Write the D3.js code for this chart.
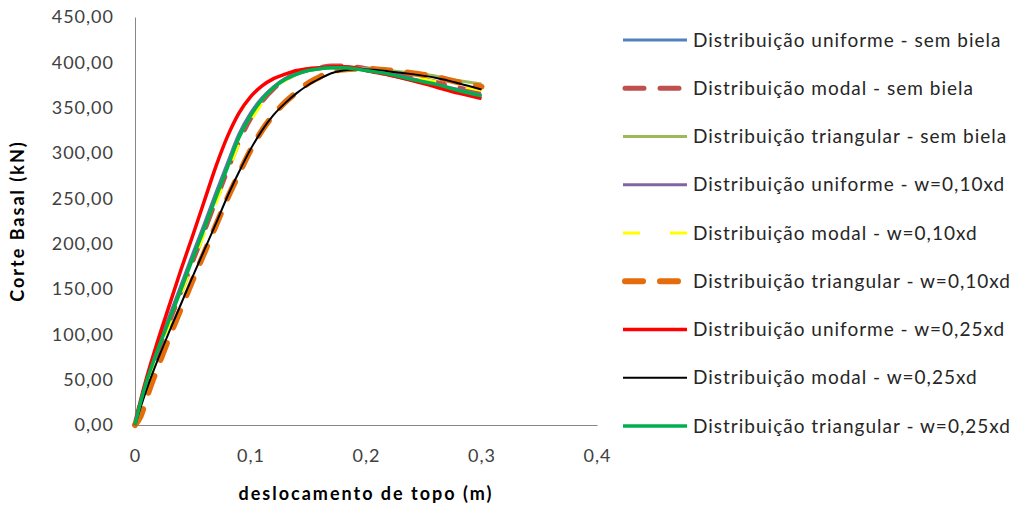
<!DOCTYPE html>
<html>
<head>
<meta charset="utf-8">
<script src="https://cdn.jsdelivr.net/npm/d3@7"></script>
<style>
  body { margin: 0; background: #fff; }
  svg { display: block; }
  .tick text { font-family: Lato, "Open Sans", sans-serif; font-size: 18px; letter-spacing: 1px; fill: #404040; }
  .legend text { font-family: Lato, "Open Sans", sans-serif; font-size: 19px; letter-spacing: 1px; fill: #262626; }
  .title { font-family: Lato, "Open Sans", sans-serif; font-size: 18px; font-weight: bold; letter-spacing: 2px; fill: #000; }
</style>
</head>
<body>
<div id="chart"></div>
<script>
// top displacement (m), shared by all series
var deslocamento = [0, 0.005, 0.01, 0.02, 0.03, 0.04, 0.05, 0.06, 0.07, 0.08, 0.09, 0.10, 0.11, 0.12, 0.13, 0.14, 0.15, 0.16, 0.17, 0.18, 0.19, 0.20, 0.22, 0.24, 0.26, 0.28, 0.30];

// base shear (kN) per series
var uniformeSemBiela   = [0, 27, 50, 87, 121, 155, 189, 222, 256, 289, 321, 344, 361, 373, 382, 388, 391, 393, 394, 394, 393, 391, 386, 380, 374, 368, 362];
var modalSemBiela      = [0, 25, 46, 82, 115, 148, 181, 214, 248, 281, 313, 338, 357, 371, 381, 388, 392, 394, 396, 396, 395, 393, 389, 384, 378, 372, 366];
var triangularSemBiela = [0, 26, 48, 85, 118, 151, 185, 218, 252, 285, 317, 341, 359, 372, 381, 387, 391, 393, 394, 395, 394, 393, 391, 388, 385, 380, 376];
var uniforme010        = [0, 26, 49, 86, 120, 153, 187, 220, 254, 287, 319, 343, 360, 373, 382, 388, 392, 394, 395, 395, 394, 392, 388, 382, 376, 370, 364];
var modal010           = [0, 24, 45, 80, 112, 145, 178, 211, 244, 277, 310, 335, 355, 370, 380, 387, 391, 393, 394, 394, 394, 392, 389, 384, 379, 374, 369];
var triangular010      = [0, 10, 30, 65, 98, 129, 160, 190, 220, 250, 277, 303, 325, 342, 356, 367, 377, 384, 390, 392, 393, 393, 391, 388, 384, 378, 373];
var uniforme025        = [0, 28, 52, 94, 133, 172, 209, 247, 285, 318, 344, 362, 374, 382, 387, 391, 393, 394, 395, 395, 394, 391, 386, 380, 373, 366, 360];
var modal025           = [0, 20, 39, 73, 104, 134, 164, 193, 222, 252, 279, 304, 325, 342, 355, 366, 375, 382, 388, 391, 392, 392, 390, 387, 383, 377, 370];
var triangular025      = [0, 26, 48, 84, 117, 150, 184, 217, 251, 284, 317, 341, 359, 372, 381, 387, 391, 393, 394, 394, 393, 391, 387, 381, 376, 369, 363];

var nomes = ["Distribuição uniforme - sem biela", "Distribuição modal - sem biela", "Distribuição triangular - sem biela",
  "Distribuição uniforme - w=0,10xd", "Distribuição modal - w=0,10xd", "Distribuição triangular - w=0,10xd",
  "Distribuição uniforme - w=0,25xd", "Distribuição modal - w=0,25xd", "Distribuição triangular - w=0,25xd"];
var valores = [uniformeSemBiela, modalSemBiela, triangularSemBiela, uniforme010, modal010, triangular010, uniforme025, modal025, triangular025];

var xTicks = [0, 0.1, 0.2, 0.3, 0.4];
var yTicks = [0, 50, 100, 150, 200, 250, 300, 350, 400, 450];

// line styles (colour, width, dash)
var estilos = [
  { cor: "#4F81BD", largura: 3, dash: null, cap: "butt" },
  { cor: "#C0504D", largura: 5, dash: "19,16", cap: "round" },
  { cor: "#9BBB59", largura: 3, dash: null, cap: "butt" },
  { cor: "#8064A2", largura: 3, dash: null, cap: "butt" },
  { cor: "#FFFF00", largura: 3, dash: "17,30", cap: "butt" },
  { cor: "#E46C0A", largura: 6, dash: "18,17", cap: "round" },
  { cor: "#FF0000", largura: 3.5, dash: null, cap: "butt" },
  { cor: "#000000", largura: 2, dash: null, cap: "butt" },
  { cor: "#00B050", largura: 3.5, dash: null, cap: "butt" }
];

var w = 1017;
var h = 506;

var svg = d3.select("#chart")
  .append("svg")
  .attr("width", w)
  .attr("height", h);

var pt = d3.formatLocale({ decimal: ",", thousands: ".", grouping: [3], currency: ["", ""] });

var x = d3.scaleLinear().domain([0, 0.4]).range([135, 597]);
var y = d3.scaleLinear().domain([0, 450]).range([425, 17]);

// axes
var eixoY = svg.append("g")
  .attr("transform", "translate(" + x(0) + ",0)")
  .call(d3.axisLeft(y).tickValues(yTicks).tickSize(0).tickPadding(21).tickFormat(pt.format(".2f")));
eixoY.select(".domain").attr("stroke", "#868686");

var eixoX = svg.append("g")
  .attr("transform", "translate(0," + y(0) + ")")
  .call(d3.axisBottom(x).tickValues(xTicks).tickSize(0).tickPadding(24)
    .tickFormat(function(d) { return d === 0 ? "0" : pt.format(".1f")(d); }));
eixoX.select(".domain").attr("stroke", "#868686");

// axis titles
svg.append("text")
  .attr("class", "title")
  .attr("text-anchor", "middle")
  .attr("transform", "translate(24," + ((y(0) + y(450)) / 2) + ") rotate(-90)")
  .text("Corte Basal (kN)");

svg.append("text")
  .attr("class", "title")
  .attr("text-anchor", "middle")
  .attr("x", (x(0) + x(0.4)) / 2)
  .attr("y", 500)
  .text("deslocamento de topo (m)");

// curves
var linha = d3.line()
  .x(function(d) { return x(d[0]); })
  .y(function(d) { return y(d[1]); })
  .curve(d3.curveMonotoneX);

svg.selectAll("path.serie")
  .data(valores)
  .enter()
  .append("path")
  .attr("class", "serie")
  .attr("fill", "none")
  .attr("d", function(v) { return linha(deslocamento.map(function(dx, i) { return [dx, v[i]]; })); })
  .attr("stroke", function(v, i) { return estilos[i].cor; })
  .attr("stroke-width", function(v, i) { return estilos[i].largura; })
  .attr("stroke-dasharray", function(v, i) { return estilos[i].dash; })
  .attr("stroke-linecap", function(v, i) { return estilos[i].cap; })
  .attr("stroke-linejoin", "round");

// legend
var legenda = svg.selectAll("g.legend")
  .data(nomes)
  .enter()
  .append("g")
  .attr("class", "legend")
  .attr("transform", function(d, i) { return "translate(0," + (40 + i * 48.25) + ")"; });

legenda.append("line")
  .attr("x1", function(d, i) { return estilos[i].cap === "round" ? 625 : 623; })
  .attr("x2", function(d, i) { return estilos[i].cap === "round" ? 685 : 687; })
  .attr("stroke", function(d, i) { return estilos[i].cor; })
  .attr("stroke-width", function(d, i) { return estilos[i].largura; })
  .attr("stroke-dasharray", function(d, i) { return estilos[i].dash; })
  .attr("stroke-linecap", function(d, i) { return estilos[i].cap; });

legenda.append("text")
  .attr("x", 693)
  .attr("dy", "0.35em")
  .text(function(d) { return d; });
</script>
</body>
</html>
